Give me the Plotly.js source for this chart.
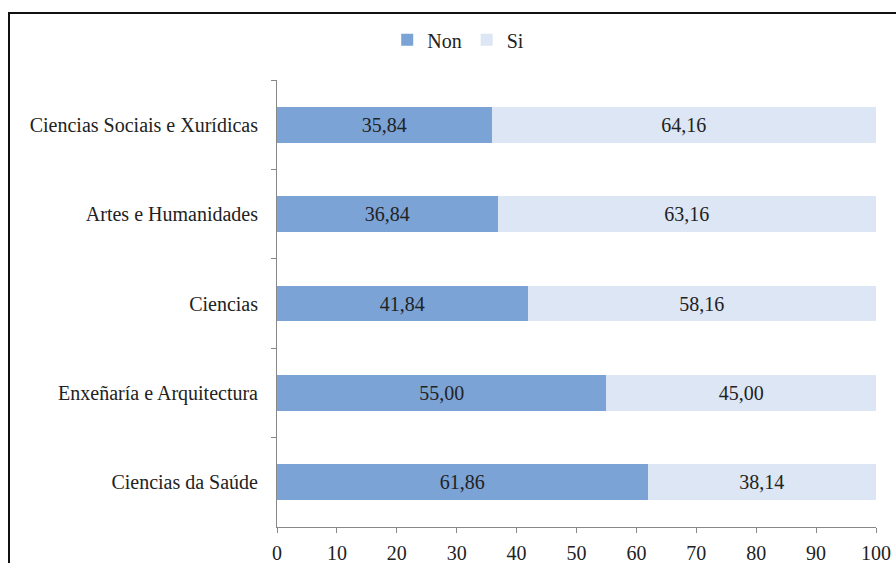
<!DOCTYPE html>
<html>
<head>
<meta charset="utf-8">
<script src="https://cdn.plot.ly/plotly-3.0.1.min.js"></script>
<style>
  html, body { margin: 0; padding: 0; background: #fff; }
  #frame { position: absolute; left: 8px; top: 12px; width: 900px; height: 600px;
           border-left: 2.5px solid #111; border-top: 2.5px solid #111; box-sizing: border-box; }
  #chart { position: absolute; left: 0; top: 0; width: 896px; height: 563px; }
</style>
</head>
<body>
<div id="frame"></div>
<div id="chart"></div>
<script>
const categories = ["Ciencias Sociais e Xurídicas", "Artes e Humanidades", "Ciencias", "Enxeñaría e Arquitectura", "Ciencias da Saúde"];
const nonValues = [35.84, 36.84, 41.84, 55.00, 61.86];
const siValues = [64.16, 63.16, 58.16, 45.00, 38.14];
const seriesNames = ["Non", "Si"];
const xTicks = [0, 10, 20, 30, 40, 50, 60, 70, 80, 90, 100];

const fmt = v => v.toFixed(2).replace('.', ',');
const serif = "Liberation Serif";

const common = {
  type: 'bar', orientation: 'h', y: categories,
  textposition: 'inside', insidetextanchor: 'middle',
  textfont: {family: serif, size: 20, color: '#222'},
  hoverinfo: 'skip', cliponaxis: false
};
const traces = [
  Object.assign({}, common, {name: seriesNames[0], x: nonValues, text: nonValues.map(fmt),
    marker: {color: '#7ba3d6'}}),
  Object.assign({}, common, {name: seriesNames[1], x: siValues, text: siValues.map(fmt),
    marker: {color: '#dce6f4'}})
];

const layout = {
  width: 896, height: 563,
  margin: {l: 277, r: 20, t: 80, b: 36},
  paper_bgcolor: 'rgba(0,0,0,0)', plot_bgcolor: 'rgba(0,0,0,0)',
  barmode: 'stack', bargap: 0.6,
  showlegend: true,
  legend: {orientation: 'h', x: 0.184, xanchor: 'left', y: 1.09, yanchor: 'middle',
    font: {family: serif, size: 20, color: '#222'}, itemwidth: 30, tracegroupgap: 0,
    traceorder: 'normal'},
  font: {family: serif, size: 20, color: '#222'},
  xaxis: {range: [0, 100], tickvals: xTicks, ticktext: xTicks.map(String),
    showgrid: false, zeroline: false, showline: true, linecolor: '#888', linewidth: 1,
    ticks: 'outside', ticklen: 5, tickcolor: '#888', ticklabelstandoff: 3,
    tickfont: {family: serif, size: 20, color: '#222'}, fixedrange: true},
  yaxis: {type: 'category', categoryorder: 'array', categoryarray: categories,
    autorange: 'reversed', showgrid: false, zeroline: false,
    showline: true, linecolor: '#888', linewidth: 1,
    ticks: 'outside', ticklen: 5, tickcolor: '#888', tickson: 'boundaries',
    ticklabelstandoff: 14,
    tickfont: {family: serif, size: 20, color: '#222'}, fixedrange: true}
};

Plotly.newPlot('chart', traces, layout, {displayModeBar: false, staticPlot: true});
</script>
</body>
</html>
